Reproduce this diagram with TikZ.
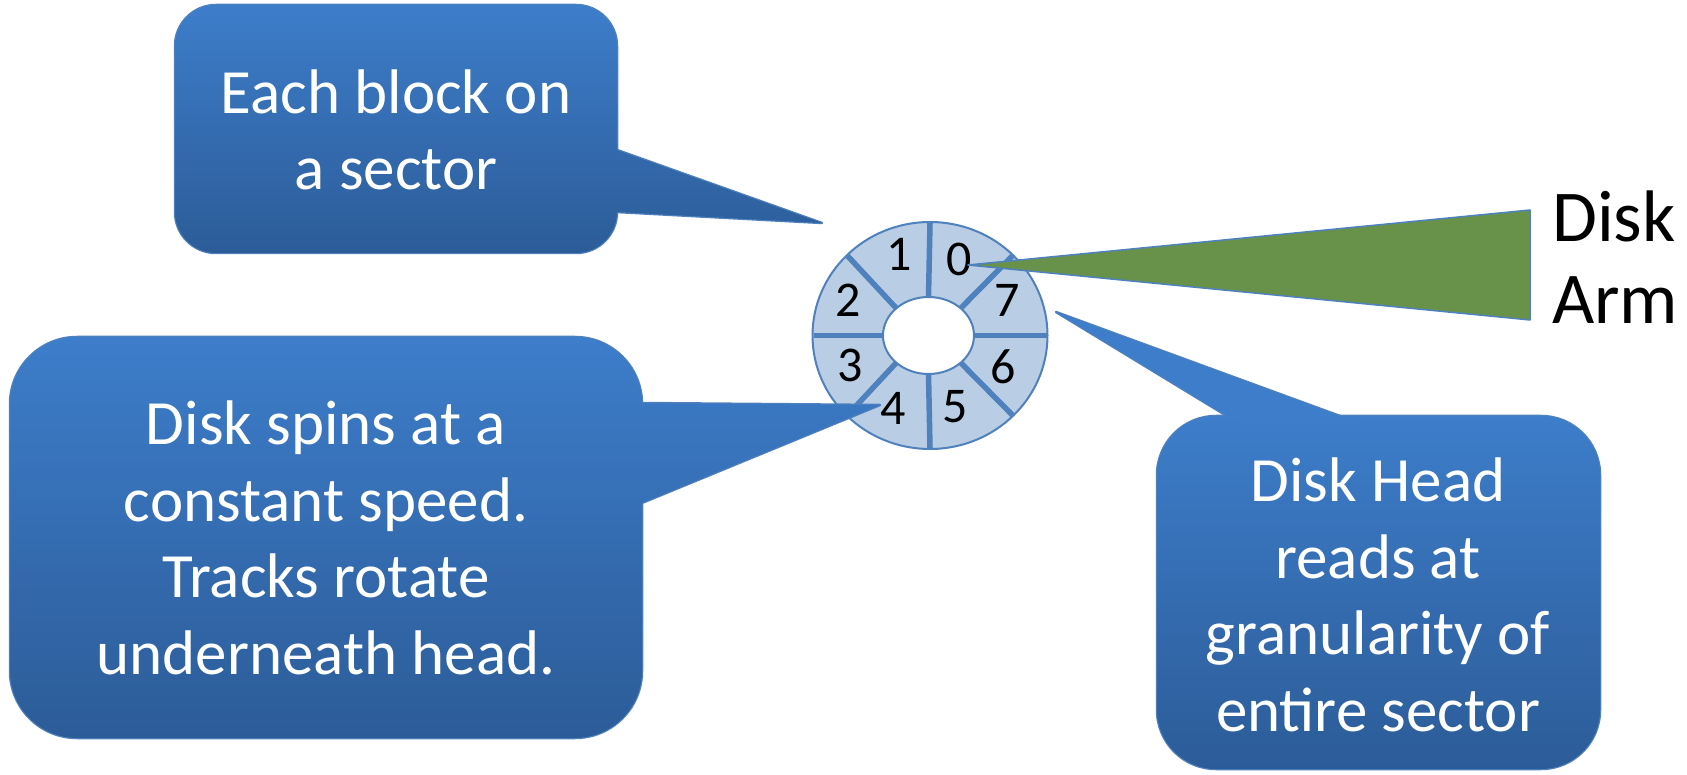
\documentclass[tikz,border=0pt]{standalone}
\usepackage{fontspec}
\setmainfont{Carlito}
\definecolor{boxtop}{RGB}{61,125,202}
\definecolor{boxbot}{RGB}{44,92,152}
\definecolor{edgeblue}{RGB}{79,129,189}
\definecolor{ringfill}{RGB}{185,205,229}
\definecolor{armgreen}{RGB}{104,146,74}
\tikzset{
  calloutedge/.style={draw=edgeblue, line width=2.5pt, line join=round},
  calloutfill/.style={top color=boxtop, bottom color=boxbot, draw=none},
  callouttext/.style={text=white, align=center, font=\fontsize{63}{76.5}\selectfont, inner sep=0pt},
  digit/.style={font=\fontsize{50}{55}\selectfont, inner sep=0pt},
  divider/.style={draw=edgeblue, line width=5.5pt},
  ringedge/.style={draw=edgeblue, line width=2pt},
}
\begin{document}
\begin{tikzpicture}[x=1pt,y=-1pt]
\useasboundingbox (0,0) rectangle (1687,775);

% ---- disk ----
\filldraw[ringedge, fill=ringfill] (930,335.5) ellipse [x radius=117.5pt, y radius=113.5pt];
\foreach \a in {0,45,...,315}{
  \coordinate (o\a) at ({930+116.5*cos(\a)},{335.5-112.5*sin(\a)});
  \coordinate (i\a) at ({928.5+45.5*cos(\a)},{335.5-38.5*sin(\a)});
  \draw[divider] (i\a) -- (o\a);
}
\filldraw[ringedge, fill=white] (928.5,335.5) ellipse [x radius=45.5pt, y radius=38.5pt];
\node[digit] (d0) at (959,259) {0};
\node[digit] (d1) at (899,254) {1};
\node[digit] (d2) at (848,300) {2};
\node[digit] (d3) at (850,365) {3};
\node[digit] (d4) at (893,408) {4};
\node[digit] (d5) at (955,407) {5};
\node[digit] (d6) at (1003,367) {6};
\node[digit] (d7) at (1007,300) {7};

% ---- disk arm ----
\filldraw[fill=armgreen, draw=edgeblue, line width=1.5pt, line join=round]
  (968,265) -- (1530,210) -- (1530,320) -- cycle;
\node[anchor=north west, inner sep=0pt, align=left, font=\fontsize{73}{82}\selectfont] (arm) at (1552,191) {Disk\\Arm};

% ---- callout 1 ----
\draw[calloutedge] (605,145.7) -- (822,223) -- (605,211.4) -- cycle
  [rounded corners=41pt] (396,5) -- (617,5) -- (617,253) -- (175,253) -- (175,5) -- cycle;
\shade[calloutfill] (605,145.7) -- (822,223) -- (605,211.4) -- cycle
  [rounded corners=41pt] (396,5) -- (617,5) -- (617,253) -- (175,253) -- (175,5) -- cycle;
\node[callouttext] (t1) at (396,130) {Each block on\\a sector};

% ---- callout 3 ----
\draw[calloutedge] (630,402.9) -- (880,405) -- (630,507.9) -- cycle
  [rounded corners=67pt] (326,337) -- (642,337) -- (642,738) -- (10,738) -- (10,337) -- cycle;
\shade[calloutfill] (630,402.9) -- (880,405) -- (630,507.9) -- cycle
  [rounded corners=67pt] (326,337) -- (642,337) -- (642,738) -- (10,738) -- (10,337) -- cycle;
\node[callouttext] (t3) at (326,538) {Disk spins at a\\constant speed.\\Tracks rotate\\underneath head.};

% ---- callout 4 ----
\draw[calloutedge] (1056,312) -- (1227,416) -- (1340,416) -- cycle;
\draw[calloutedge, rounded corners=59pt] (1378,416) -- (1600,416) -- (1600,769) -- (1157,769) -- (1157,416) -- cycle;
\shade[calloutfill, rounded corners=59pt] (1378,416) -- (1600,416) -- (1600,769) -- (1157,769) -- (1157,416) -- cycle;
\fill[boxtop] (1056,312) -- (1240.2,424) -- (1361.8,424) -- cycle;
\node[callouttext] (t4) at (1378,595) {Disk Head\\reads at\\granularity of\\entire sector};
\end{tikzpicture}
\end{document}
